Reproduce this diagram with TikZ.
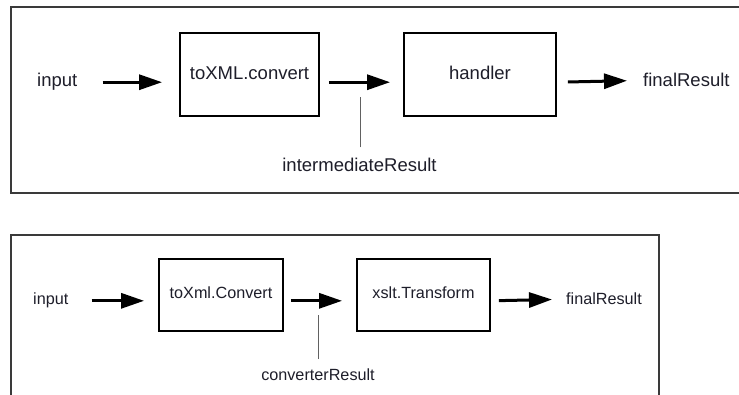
\documentclass[tikz,border=0pt]{standalone}
\usepackage{fontspec}
\setmainfont{Liberation Sans}
\usetikzlibrary{arrows.meta}
\definecolor{txt}{HTML}{1E1E2A}
\definecolor{frm}{HTML}{3A3A3A}
\begin{document}
\begin{tikzpicture}[x=1pt,y=-1pt,
  frame/.style={draw=frm,line width=2pt},
  box/.style={draw=black,line width=1.8pt,inner sep=0pt},
  lbl/.style={inner sep=0pt,text=txt},
  big/.style={font=\fontsize{18.5}{20}\selectfont},
  small/.style={font=\fontsize{16.2}{18}\selectfont},
  arr/.style={line width=3pt,-{Triangle[length=23pt,width=15pt]}},
  tick/.style={draw=frm!80,line width=0.9pt}]
\useasboundingbox (0,0) rectangle (739,395);
\clip (0,0) rectangle (739,395);
\fill[white] (0,0) rectangle (739,395);
% frames
\draw[frame] (11,7) rectangle (760,193);
\draw[frame] (11,235) rectangle (659,420);
% top row
\node[box,minimum width=139pt,minimum height=83pt] (b1) at (249.5,74.5) {};
\node[box,minimum width=152pt,minimum height=83pt] (b2) at (480,74.5) {};
\node[lbl,big,anchor=base] (t1) at (249.5,80) {toXML.convert};
\node[lbl,big,anchor=base] (t2) at (480,80) {handler};
\node[lbl,big,anchor=base west] (in1) at (37,87) {input};
\node[lbl,big,anchor=base west] (out1) at (643,87) {finalResult};
\node[lbl,big,anchor=base] (mid1) at (359.5,172) {intermediateResult};
\coordinate (k1) at (360,97);
\draw[arr,shorten <=25pt,shorten >=17pt] (in1.east) -- (in1.east -| b1.west);
\draw[arr,shorten <=9pt,shorten >=13pt] (in1.east -| b1.east) -- (in1.east -| b2.west);
\draw[arr,shorten <=11pt,shorten >=16pt] (in1.east -| b2.east) -- (out1.west);
\draw[tick,shorten <=11pt] (mid1.north -| k1) -- (k1);
% bottom row
\node[box,minimum width=124pt,minimum height=72pt] (b3) at (221,295) {};
\node[box,minimum width=133pt,minimum height=72pt] (b4) at (423.5,295) {};
\node[lbl,small,anchor=base] (t3) at (221,299) {toXml.Convert};
\node[lbl,small,anchor=base] (t4) at (423.5,299) {xslt.Transform};
\node[lbl,small,anchor=base west] (in2) at (33,305) {input};
\node[lbl,small,anchor=base west] (out2) at (566,305) {finalResult};
\node[lbl,small,anchor=base] (mid2) at (318,380) {converterResult};
\coordinate (k2) at (318,315);
\draw[arr,shorten <=23pt,shorten >=14pt] (in2.east) -- (in2.east -| b3.west);
\draw[arr,shorten <=7pt,shorten >=14pt] (in2.east -| b3.east) -- (in2.east -| b4.west);
\draw[arr,shorten <=8pt,shorten >=14pt] (in2.east -| b4.east) -- (out2.west);
\draw[tick,shorten <=9pt] (mid2.north -| k2) -- (k2);
\end{tikzpicture}
\end{document}
